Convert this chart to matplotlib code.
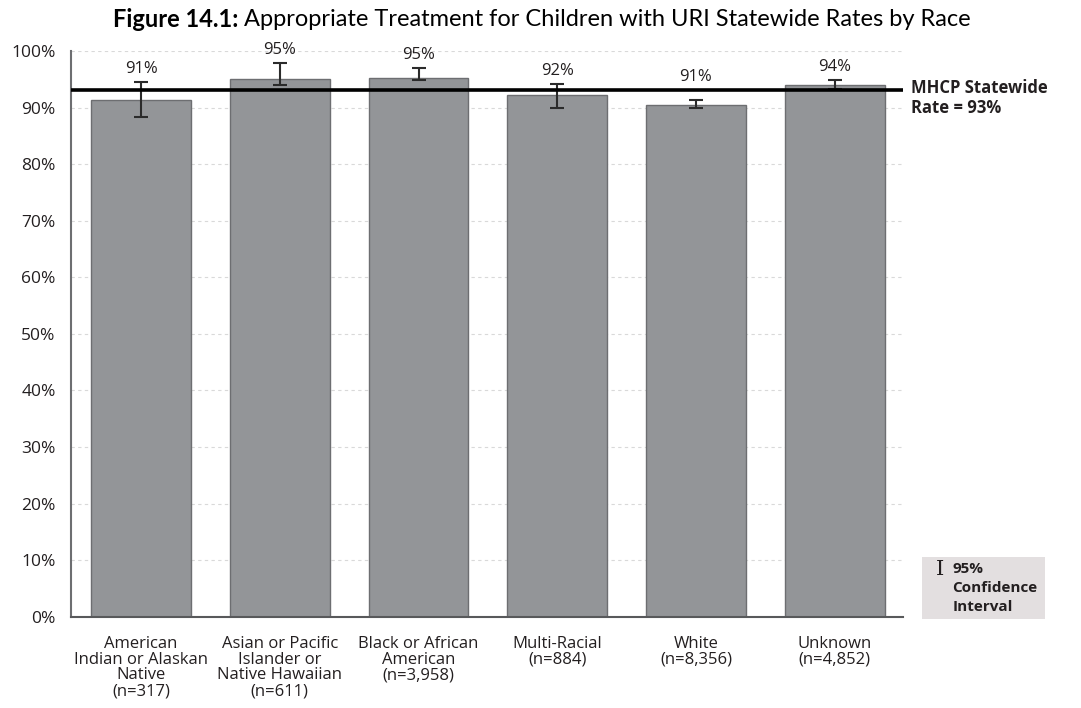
import matplotlib.pyplot as plt
import numpy as np

# data
categories = ['American\nIndian or Alaskan\nNative\n(n=317)',
              'Asian or Pacific\nIslander or\nNative Hawaiian\n(n=611)',
              'Black or African\nAmerican\n(n=3,958)',
              'Multi-Racial\n(n=884)',
              'White\n(n=8,356)',
              'Unknown\n(n=4,852)']
rates = [91.3, 95.0, 95.2, 92.2, 90.4, 94.0]
ci_low = [88.3, 93.9, 94.9, 90.0, 90.0, 93.3]
ci_high = [94.5, 97.9, 97.0, 94.2, 91.3, 94.9]
value_labels = ['91%', '95%', '95%', '92%', '91%', '94%']
statewide_rate = 93.1
yticks = [0, 10, 20, 30, 40, 50, 60, 70, 80, 90, 100]

font = 'Open Sans'
txt = '#231f20'

fig = plt.figure(figsize=(10.81, 7.08), dpi=100)
ax = fig.add_axes([0.0657, 0.129, 0.7693, 0.799])

x = np.arange(len(categories))
rates = np.array(rates)
yerr = [rates - np.array(ci_low), np.array(ci_high) - rates]

ax.bar(x, rates, width=0.72, color='#939598', edgecolor='#6d6e71', linewidth=1, zorder=2)
ax.errorbar(x, rates, yerr=yerr, fmt='none', ecolor='#2b2b2b', elinewidth=1.5,
            capsize=5, capthick=1.5, zorder=3)

# statewide line
ax.axhline(statewide_rate, color='black', linewidth=2.6, zorder=4)

# value labels, kept clear of the error bar and the statewide line
for i, lab in enumerate(value_labels):
    ax.text(x[i], max(ci_high[i], statewide_rate) + 0.9, lab, ha='center', va='bottom',
            fontsize=12, family=font, color=txt)

ax.set_xlim(-0.505, 5.49)
ax.set_ylim(0, 100)
ax.set_yticks(yticks)
ax.set_yticklabels([f'{t}%' for t in yticks], family=font, fontsize=12.5, color=txt)
ax.set_xticks(x)
ax.set_xticklabels(categories, family=font, fontsize=12, color=txt, linespacing=0.97)
ax.tick_params(axis='both', length=0)
ax.tick_params(axis='y', pad=11)
ax.tick_params(axis='x', pad=14)

ax.yaxis.grid(True, linestyle=(0, (3, 3)), color='#d9d9d9', linewidth=0.8, zorder=0)
ax.set_axisbelow(True)
for s in ['top', 'right']:
    ax.spines[s].set_visible(False)
ax.spines['left'].set_color('#6d6e71')
ax.spines['left'].set_linewidth(1.5)
ax.spines['bottom'].set_color('#58595b')
ax.spines['bottom'].set_linewidth(1.5)

# statewide label
fig.text(0.843, 0.861, 'MHCP Statewide\nRate = 93%', ha='left', va='center',
         fontsize=12, fontweight='bold', family=font, color=txt, linespacing=1.15)

# CI legend box
fig.patches.append(plt.Rectangle((0.853, 0.126), 0.114, 0.087, transform=fig.transFigure,
                                 facecolor='#e3dfe0', edgecolor='none'))
fig.text(0.870, 0.196, 'I', ha='center', va='center', fontsize=15, family='DejaVu Serif',
         color=txt)
fig.text(0.881, 0.169, '95%\nConfidence\nInterval', ha='left', va='center', fontsize=11,
         fontweight='bold', family=font, color=txt, linespacing=1.45)

# title: bold prefix followed by normal text, centred as a whole
t1 = fig.text(0, 0.972, 'Figure 14.1:', ha='left', va='center', fontsize=17,
              fontweight='bold', family='Lato', color='black')
t2 = fig.text(0, 0.972, ' Appropriate Treatment for Children with URI Statewide Rates by Race',
              ha='left', va='center', fontsize=17, family='Lato', color='black')
fig.canvas.draw()
r = fig.canvas.get_renderer()
w1 = t1.get_window_extent(r).width / fig.bbox.width
w2 = t2.get_window_extent(r).width / fig.bbox.width
start = 0.5015 - (w1 + w2) / 2
t1.set_x(start)
t2.set_x(start + w1)

fig.savefig('out.png', dpi=100)
